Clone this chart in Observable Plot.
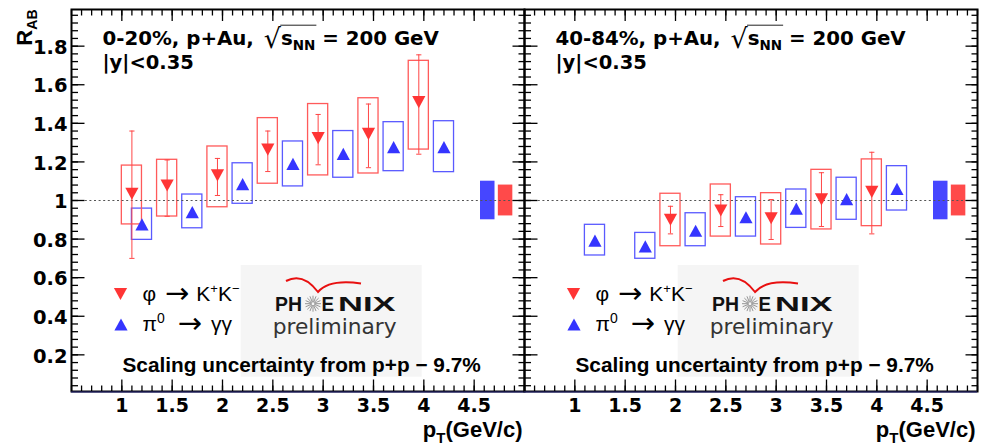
<!DOCTYPE html>
<html>
<head>
<meta charset="utf-8">
<script src="https://cdn.jsdelivr.net/npm/d3@7"></script>
<script src="https://cdn.jsdelivr.net/npm/@observablehq/plot@0.6"></script>
<style>
  html, body { margin: 0; padding: 0; background: #fff; }
  #chart { position: relative; width: 981px; height: 447px; overflow: hidden; background: #fff; }
  #chart svg { position: absolute; left: 0; top: 0; }
</style>
</head>
<body>
<div id="chart"></div>
<script>
// ---------------- data ----------------
const centralities = ["0-20%", "40-84%"];
const headerLabels = ["0-20%, p+Au, √sNN = 200 GeV", "40-84%, p+Au, √sNN = 200 GeV"];
const rapidityLabel = "|y|<0.35";
const legendLabels = ["φ → K+K−", "π0 → γγ"];
const scalingLabel = "Scaling uncertainty from p+p − 9.7%";
const xTitle = "pT(GeV/c)";
const yTitle = "RAB";

// phi -> K+K-, 0-20%
const phiPt_0020 = [1.1, 1.45, 1.95, 2.45, 2.95, 3.45, 3.95];
const phiRAB_0020 = [1.035, 1.078, 1.13, 1.264, 1.323, 1.345, 1.51];
const phiStatLo_0020 = [0.70, 0.918, 1.026, 1.15, 1.185, 1.17, 1.24];
const phiStatHi_0020 = [1.36, 1.21, 1.218, 1.36, 1.446, 1.50, 1.755];
const phiSysLo_0020 = [0.876, 0.917, 0.965, 1.087, 1.13, 1.14, 1.264];
const phiSysHi_0020 = [1.181, 1.211, 1.28, 1.427, 1.50, 1.53, 1.724];
// pi0 -> gamma gamma, 0-20%
const pi0Pt = [1.2, 1.7, 2.2, 2.7, 3.2, 3.7, 4.2];
const pi0RAB_0020 = [0.876, 0.94, 1.085, 1.19, 1.242, 1.277, 1.277];
const pi0SysLo_0020 = [0.796, 0.856, 0.983, 1.073, 1.118, 1.152, 1.147];
const pi0SysHi_0020 = [0.958, 1.031, 1.193, 1.306, 1.36, 1.406, 1.411];
// phi -> K+K-, 40-84%
const phiPt_4084 = [1.95, 2.45, 2.95, 3.45, 3.95];
const phiRAB_4084 = [0.90, 0.948, 0.908, 1.006, 1.045];
const phiStatLo_4084 = [0.827, 0.865, 0.798, 0.865, 0.827];
const phiStatHi_4084 = [0.97, 1.03, 1.005, 1.144, 1.25];
const phiSysLo_4084 = [0.763, 0.813, 0.772, 0.85, 0.867];
const phiSysHi_4084 = [1.035, 1.083, 1.038, 1.159, 1.213];
// pi0 -> gamma gamma, 40-84%
const pi0RAB_4084 = [0.792, 0.762, 0.843, 0.913, 0.958, 1.007, 1.06];
const pi0SysLo_4084 = [0.715, 0.698, 0.763, 0.813, 0.858, 0.90, 0.948];
const pi0SysHi_4084 = [0.874, 0.832, 0.934, 1.017, 1.057, 1.118, 1.178];
// normalisation (global scale) boxes at R_AB = 1
const normSpecies = ["pi0", "phi"];
const normPt = [4.635, 4.812];
const normLo = [0.90, 0.92];
const normHi = [1.10, 1.08];

// axes
const xDomain = [0.5, 5.0];
const yDomain = [0.01, 1.99];
const xTickValues = [1, 1.5, 2, 2.5, 3, 3.5, 4, 4.5];
const xTickLabels = ["1", "1.5", "2", "2.5", "3", "3.5", "4", "4.5"];
const yTickValues = [0.2, 0.4, 0.6, 0.8, 1, 1.2, 1.4, 1.6, 1.8];
const yTickLabels = ["0.2", "0.4", "0.6", "0.8", "1", "1.2", "1.4", "1.6", "1.8"];
const xMinorTicks = d3.range(5, 51).map(i => i / 10);
const yMinorTicks = d3.range(1, 50).map(i => +(i * 0.04).toFixed(2));

// per-panel groupings
const phiPtBy = [phiPt_0020, phiPt_4084];
const phiRABBy = [phiRAB_0020, phiRAB_4084];
const phiStatLoBy = [phiStatLo_0020, phiStatLo_4084];
const phiStatHiBy = [phiStatHi_0020, phiStatHi_4084];
const phiSysLoBy = [phiSysLo_0020, phiSysLo_4084];
const phiSysHiBy = [phiSysHi_0020, phiSysHi_4084];
const pi0RABBy = [pi0RAB_0020, pi0RAB_4084];
const pi0SysLoBy = [pi0SysLo_0020, pi0SysLo_4084];
const pi0SysHiBy = [pi0SysHi_0020, pi0SysHi_4084];

// ---------------- styles ----------------
const RED = "#ff3535", RED_BOX = "#ff5a5a", RED_ERR = "#ff4545", RED_NORM = "#ff4a4a";
const BLUE = "#3535ff", BLUE_BOX = "#5a5aff", BLUE_NORM = "#4646ff";
const BOX_HW = 0.1, NORM_HW = 0.072, CAP = 2.6;
const SANS = "Liberation Sans, Arial, Helvetica, sans-serif";
const DEJA = "DejaVu Sans, Verdana, sans-serif";

const triDown = {draw(c, s) { const r = Math.sqrt(s / Math.PI); c.moveTo(0, r * 0.92); c.lineTo(-r, -r * 0.92); c.lineTo(r, -r * 0.92); c.closePath(); }};
const triUp = {draw(c, s) { const r = Math.sqrt(s / Math.PI); c.moveTo(0, -r * 0.92); c.lineTo(r, r * 0.92); c.lineTo(-r, r * 0.92); c.closePath(); }};
const seg = (dx, dy) => ({draw(c) { c.moveTo(0, 0); c.lineTo(dx, dy); }});
const hcap = {draw(c) { c.moveTo(-CAP, 0); c.lineTo(CAP, 0); }};

// rich text replacements
const ARROW = '<tspan font-family="DejaVu Sans" font-size="29" dy="2" dx="3">→</tspan>';
const rich = new Map();
rich.set(yTitle, 'R<tspan dy="5" font-size="14">AB</tspan>');
rich.set(xTitle, 'p<tspan dy="6" font-size="15">T</tspan><tspan dy="-6">(GeV/c)</tspan>');
rich.set(legendLabels[0], `φ ${ARROW}<tspan dy="-2" dx="7">K</tspan><tspan dy="-8" font-size="13">+</tspan><tspan dy="8">K</tspan><tspan dy="-8" font-size="13">−</tspan>`);
rich.set(legendLabels[1], `π<tspan dy="-8" font-size="14">0</tspan><tspan dy="8" dx="4"> </tspan>${ARROW}<tspan dy="-2" dx="9">γγ</tspan>`);
centralities.forEach((c, i) => rich.set(headerLabels[i],
  `${c}, p+Au, <tspan class="sq" dx="3" font-weight="normal" font-size="27" dy="3">√</tspan><tspan dy="-3">s</tspan><tspan class="sqe" dy="5" font-size="13.5">NN</tspan><tspan dy="-5"> = 200 GeV</tspan>`));

// PHENIX preliminary logo (decoration)
function logoMark(shift) {
  return (index, scales, values, dims) => {
    const g = d3.create("svg:g").attr("transform", `translate(${dims.marginLeft + shift},${dims.marginTop})`)
      .attr("text-anchor", "start");
    g.append("rect").attr("x", 169.7).attr("y", 256).attr("width", 181).attr("height", 111.7).attr("fill", "#f5f5f5");
    g.append("path").attr("d", "M215,272 Q232,263 247,283 Q258,270 290,274.5")
      .attr("fill", "none").attr("stroke", "#e81010").attr("stroke-width", 2);
    const star = g.append("g").attr("transform", "translate(242,294.7)").attr("stroke", "#8a8a8a").attr("stroke-width", 0.9);
    for (let k = 0; k < 16; k++) {
      const a = k * Math.PI / 8;
      star.append("line").attr("x1", 1.5 * Math.cos(a)).attr("y1", 1.5 * Math.sin(a))
        .attr("x2", 8 * Math.cos(a)).attr("y2", 8 * Math.sin(a));
    }
    const bold = {"font-family": SANS, "font-weight": "bold", "font-size": 21, "fill": "#111", "text-anchor": "start"};
    const t1 = g.append("text").attr("x", 204).attr("y", 302.3).text("PH").attr("textLength", 27).attr("lengthAdjust", "spacingAndGlyphs");
    const t2 = g.append("text").attr("x", 250.5).attr("y", 302.3).text("E").attr("textLength", 12.5).attr("lengthAdjust", "spacingAndGlyphs");
    const t3 = g.append("text").attr("x", 267).attr("y", 302.3).text("NIX").attr("textLength", 57.5).attr("lengthAdjust", "spacingAndGlyphs");
    for (const t of [t1, t2, t3]) for (const [k, v] of Object.entries(bold)) t.attr(k, v);
    g.append("text").attr("x", 201.7).attr("y", 325.3).text("preliminary")
      .attr("font-family", DEJA).attr("font-size", 21).attr("fill", "#333").attr("text-anchor", "start")
      .attr("textLength", 124).attr("lengthAdjust", "spacingAndGlyphs");
    return g.node();
  };
}

function tickMarks() {
  const st = {stroke: "black", fill: "none", strokeWidth: 1.3};
  return [
    Plot.dot(xMinorTicks, {x: d => d, frameAnchor: "bottom", symbol: seg(0, -6), ...st}),
    Plot.dot(xTickValues, {x: d => d, frameAnchor: "bottom", symbol: seg(0, -12), ...st}),
    Plot.dot(xMinorTicks, {x: d => d, frameAnchor: "top", symbol: seg(0, 6), ...st}),
    Plot.dot(xTickValues, {x: d => d, frameAnchor: "top", symbol: seg(0, 11.5), ...st}),
    Plot.dot(yMinorTicks, {y: d => d, frameAnchor: "left", symbol: seg(6.5, 0), ...st}),
    Plot.dot(yTickValues, {y: d => d, frameAnchor: "left", symbol: seg(13, 0), ...st}),
    Plot.dot(yMinorTicks, {y: d => d, frameAnchor: "right", symbol: seg(-6, 0), ...st}),
    Plot.dot(yTickValues, {y: d => d, frameAnchor: "right", symbol: seg(-12, 0), ...st})
  ];
}

function panelPlot(p) {
  const isLeft = p === 0;
  const phi = phiPtBy[p].map((pt, i) => ({pt, v: phiRABBy[p][i], lo: phiStatLoBy[p][i], hi: phiStatHiBy[p][i], sLo: phiSysLoBy[p][i], sHi: phiSysHiBy[p][i]}));
  const pi0 = pi0Pt.map((pt, i) => ({pt, v: pi0RABBy[p][i], sLo: pi0SysLoBy[p][i], sHi: pi0SysHiBy[p][i]}));
  const norm = normSpecies.map((s, i) => ({s, pt: normPt[i], lo: normLo[i], hi: normHi[i]}));
  const me = [p];
  const txt = {fontFamily: SANS, textAnchor: "start", lineAnchor: "bottom", frameAnchor: "top-left"};

  const marks = [
    logoMark(isLeft ? 0 : -16),
    Plot.rect(norm, {x1: d => d.pt - NORM_HW, x2: d => d.pt + NORM_HW, y1: "lo", y2: "hi",
      fill: d => d.s === "pi0" ? BLUE_NORM : RED_NORM}),
    Plot.rect(pi0, {x1: d => d.pt - BOX_HW, x2: d => d.pt + BOX_HW, y1: "sLo", y2: "sHi", fill: "none", stroke: BLUE_BOX, strokeWidth: 1.3}),
    Plot.rect(phi, {x1: d => d.pt - BOX_HW, x2: d => d.pt + BOX_HW, y1: "sLo", y2: "sHi", fill: "none", stroke: RED_BOX, strokeWidth: 1.3}),
    Plot.ruleY([1], {stroke: "#555", strokeWidth: 1, strokeDasharray: "2,2.6"}),
    Plot.ruleX(phi, {x: "pt", y1: "lo", y2: "hi", stroke: RED_ERR, strokeWidth: 1}),
    Plot.dot(phi, {x: "pt", y: "lo", symbol: hcap, stroke: RED_ERR, fill: "none", strokeWidth: 1}),
    Plot.dot(phi, {x: "pt", y: "hi", symbol: hcap, stroke: RED_ERR, fill: "none", strokeWidth: 1}),
    Plot.dot(pi0, {x: "pt", y: "v", symbol: triUp, r: 6.6, fill: BLUE, stroke: "none"}),
    Plot.dot(phi, {x: "pt", y: "v", symbol: triDown, r: 6.6, fill: RED, stroke: "none"}),
    // legend
    Plot.dot(me, {frameAnchor: "top-left", dx: 49, dy: 284.5, symbol: triDown, r: 6.6, fill: RED, stroke: "none"}),
    Plot.dot(me, {frameAnchor: "top-left", dx: 49.5, dy: 315, symbol: triUp, r: 6.6, fill: BLUE, stroke: "none"}),
    Plot.text(me, {...txt, text: () => legendLabels[0], dx: 71, dy: 291, fontSize: 21}),
    Plot.text(me, {...txt, text: () => legendLabels[1], dx: 71, dy: 321.5, fontSize: 21}),
    Plot.text(me, {...txt, text: () => scalingLabel, dx: 51, dy: 362.7, fontSize: 20.8, fontWeight: "bold"}),
    // headers
    Plot.text(me, {...txt, text: d => headerLabels[d], dx: 31, dy: 35.5, fontSize: 19.8, fontWeight: "bold", fontFamily: DEJA}),
    Plot.text(me, {...txt, text: () => rapidityLabel, dx: 31, dy: 59.7, fontSize: 19.5, fontWeight: "bold", fontFamily: DEJA}),
    ...tickMarks(),
    Plot.frame({stroke: "black", strokeWidth: 2}),
    Plot.ruleY([yDomain[0]], {stroke: "#2e2e86", strokeWidth: 1.2, dy: 0.5}),
    Plot.axisX({ticks: xTickValues, tickFormat: d => xTickLabels[xTickValues.indexOf(d)], tickSize: 0, tickPadding: 7,
      fontSize: 19, fontWeight: "bold", fontFamily: DEJA, label: null, anchor: "bottom"}),
    Plot.text(me, {text: () => xTitle, frameAnchor: "bottom-right", dx: -2, dy: 45, textAnchor: "end", lineAnchor: "bottom",
      fontSize: 22, fontWeight: "bold", fontFamily: SANS})
  ];
  if (isLeft) {
    marks.push(
      Plot.axisY({ticks: yTickValues, tickFormat: d => yTickLabels[yTickValues.indexOf(d)], tickSize: 0, tickPadding: 4, dy: 1.5,
        fontSize: 19.5, fontWeight: "bold", fontFamily: DEJA, label: null, anchor: "left"}),
      Plot.text(me, {text: () => yTitle, frameAnchor: "top-left", dx: -39.3, dy: 0, rotate: -90, textAnchor: "end", lineAnchor: "bottom",
        fontSize: 22, fontWeight: "bold", fontFamily: SANS})
    );
  }
  const svg = Plot.plot({
    width: 981, height: 447,
    marginLeft: isLeft ? 71 : 524, marginRight: isLeft ? 457 : 4,
    marginTop: 9, marginBottom: 56,
    x: {domain: xDomain, label: null},
    y: {domain: yDomain, label: null, ...(isLeft ? {} : {axis: null})},
    style: {fontFamily: SANS, background: "transparent", overflow: "visible"},
    marks
  });
  svg.querySelectorAll("text").forEach(t => {
    const key = t.textContent;
    if (rich.has(key)) t.innerHTML = rich.get(key);
  });
  return svg;
}

const chart = document.getElementById("chart");
const svgs = [panelPlot(0), panelPlot(1)];
svgs.forEach(s => chart.appendChild(s));

// overline of the square root (measured after layout)
svgs.forEach(svg => svg.querySelectorAll("text").forEach(t => {
  const a = t.querySelector("tspan.sq"), b = t.querySelector("tspan.sqe");
  if (!a || !b) return;
  const ba = a.getBBox(), bb = b.getBBox();
  const ln = document.createElementNS("http://www.w3.org/2000/svg", "line");
  ln.setAttribute("x1", ba.x + ba.width - 1.5);
  ln.setAttribute("x2", bb.x + bb.width + 1);
  ln.setAttribute("y1", -19.8);
  ln.setAttribute("y2", -19.8);
  ln.setAttribute("stroke", "#222");
  ln.setAttribute("stroke-width", 1);
  if (t.getAttribute("transform")) ln.setAttribute("transform", t.getAttribute("transform"));
  t.parentNode.appendChild(ln);
}));
</script>
</body>
</html>
